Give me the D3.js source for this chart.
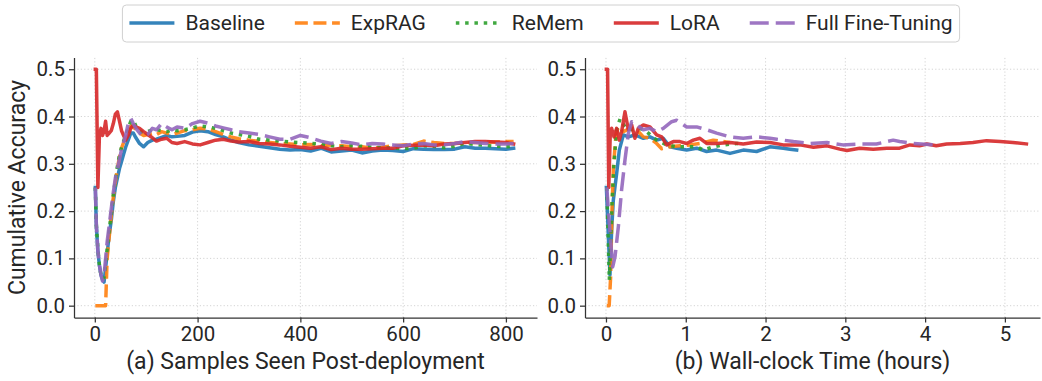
<!DOCTYPE html>
<html>
<head>
<meta charset="utf-8">
<script src="https://cdn.jsdelivr.net/npm/d3@7"></script>
<style>
  body { margin: 0; background: #fff; }
  svg text { font-family: Roboto, "Noto Sans", "DejaVu Sans", sans-serif; fill: #262626; }
</style>
</head>
<body>
<svg id="chart" width="1042" height="381"></svg>
<script>
// ---- series metadata ----
const seriesNames = ["Baseline", "ExpRAG", "ReMem", "LoRA", "Full Fine-Tuning"];
const seriesColors = ["#1f77b4", "#ff7f0e", "#2ca02c", "#d62728", "#9467bd"];
const seriesDashes = [null, "13,5.6", "3.5,5.8", null, "19,7"];

// ---- panel (a): cumulative accuracy vs samples seen ----
const samplesSeen = [
  1, 3, 6, 9, 12, 15, 18, 21, 24, 28, 32,
  36, 40, 44, 48, 52, 56, 60, 65, 70, 75, 80,
  87, 95, 103, 112, 120, 130, 140, 150, 160, 175, 190,
  205, 220, 235, 250, 265, 280, 300, 320, 340, 360, 380,
  400, 420, 440, 460, 480, 500, 520, 540, 560, 580, 600,
  620, 640, 660, 680, 700, 720, 740, 760, 780, 800, 815
];
const baselineBySamples = [
  0.25, 0.17, 0.115, 0.085, 0.065, 0.055, 0.05, 0.08, 0.11, 0.15, 0.18,
  0.22, 0.25, 0.27, 0.29, 0.305, 0.32, 0.335, 0.35, 0.365, 0.365, 0.355,
  0.343, 0.336, 0.345, 0.350, 0.352, 0.356, 0.360, 0.357, 0.358, 0.360, 0.367,
  0.370, 0.368, 0.362, 0.357, 0.350, 0.345, 0.340, 0.337, 0.334, 0.331, 0.329,
  0.330, 0.327, 0.333, 0.325, 0.327, 0.329, 0.323, 0.327, 0.329, 0.328, 0.326,
  0.332, 0.331, 0.330, 0.330, 0.331, 0.336, 0.333, 0.333, 0.332, 0.331, 0.333
];
const expragBySamples = [
  0.0, 0.0, 0.0, 0.0, 0.0, 0.0, 0.0, 0.0, 0.10, 0.145, 0.19,
  0.23, 0.262, 0.29, 0.315, 0.333, 0.345, 0.358, 0.37, 0.38, 0.378, 0.372,
  0.365, 0.36, 0.362, 0.365, 0.362, 0.368, 0.365, 0.362, 0.365, 0.37, 0.372,
  0.375, 0.374, 0.368, 0.362, 0.357, 0.353, 0.350, 0.347, 0.345, 0.343, 0.342,
  0.340, 0.341, 0.338, 0.340, 0.338, 0.336, 0.336, 0.333, 0.335, 0.338, 0.340,
  0.341, 0.348, 0.345, 0.343, 0.343, 0.344, 0.345, 0.346, 0.346, 0.347, 0.347
];
const rememBySamples = [
  0.25, 0.17, 0.12, 0.085, 0.065, 0.055, 0.06, 0.09, 0.12, 0.16, 0.195,
  0.235, 0.265, 0.295, 0.318, 0.335, 0.348, 0.36, 0.375, 0.39, 0.392, 0.38,
  0.37, 0.365, 0.368, 0.372, 0.372, 0.37, 0.368, 0.372, 0.37, 0.372, 0.376,
  0.38, 0.378, 0.375, 0.370, 0.365, 0.362, 0.358, 0.352, 0.350, 0.348, 0.346,
  0.345, 0.343, 0.342, 0.338, 0.336, 0.338, 0.337, 0.335, 0.334, 0.333, 0.332,
  0.333, 0.338, 0.337, 0.334, 0.337, 0.343, 0.341, 0.339, 0.337, 0.336, 0.337
];
const loraBySamples = [
  0.50, 0.50, 0.25, 0.36, 0.375, 0.36, 0.37, 0.39, 0.36, 0.365, 0.37,
  0.385, 0.405, 0.41, 0.39, 0.37, 0.36, 0.35, 0.36, 0.375, 0.382, 0.378,
  0.375, 0.368, 0.362, 0.355, 0.348, 0.352, 0.354, 0.345, 0.343, 0.347, 0.342,
  0.340, 0.345, 0.350, 0.352, 0.348, 0.346, 0.347, 0.343, 0.342, 0.340, 0.337,
  0.335, 0.333, 0.336, 0.330, 0.333, 0.331, 0.331, 0.332, 0.333, 0.333, 0.338,
  0.339, 0.340, 0.338, 0.342, 0.343, 0.345, 0.347, 0.347, 0.346, 0.345, 0.342
];
const fullFtBySamples = [
  0.25, 0.17, 0.115, 0.085, 0.065, 0.052, 0.065, 0.10, 0.135, 0.17, 0.205,
  0.24, 0.27, 0.29, 0.31, 0.33, 0.345, 0.36, 0.385, 0.396, 0.385, 0.375,
  0.365, 0.358, 0.362, 0.375, 0.372, 0.385, 0.378, 0.372, 0.378, 0.375, 0.385,
  0.39, 0.386, 0.38, 0.376, 0.372, 0.368, 0.365, 0.362, 0.357, 0.352, 0.352,
  0.360, 0.355, 0.348, 0.343, 0.347, 0.344, 0.340, 0.343, 0.342, 0.340, 0.338,
  0.342, 0.343, 0.340, 0.340, 0.343, 0.347, 0.345, 0.343, 0.342, 0.342, 0.343
];

// ---- panel (b): cumulative accuracy vs wall-clock hours ----
const baselineHours = [0.005, 0.029, 0.05, 0.071, 0.092, 0.134, 0.167, 0.217, 0.28, 0.363,
  0.468, 0.551, 0.635, 0.718, 0.802, 0.886, 1.011, 1.136, 1.261, 1.387,
  1.554, 1.721, 1.888, 2.055, 2.222, 2.306, 2.39];
const baselineByTime = [0.25, 0.15, 0.065, 0.16, 0.223, 0.28, 0.329, 0.361, 0.357, 0.361,
  0.354, 0.357, 0.350, 0.354, 0.336, 0.333, 0.329, 0.333, 0.326, 0.329,
  0.322, 0.329, 0.326, 0.336, 0.333, 0.331, 0.329];

const expragHours = [0.01, 0.04, 0.058, 0.075, 0.092, 0.125, 0.155, 0.217, 0.301, 0.384,
  0.468, 0.551, 0.635, 0.698, 0.802, 0.927, 1.052, 1.178, 1.345, 1.47, 1.55];
const expragByTime = [0.0, 0.0, 0.06, 0.20, 0.29, 0.362, 0.378, 0.368, 0.375, 0.372,
  0.357, 0.354, 0.343, 0.332, 0.336, 0.338, 0.340, 0.343, 0.350, 0.347, 0.345];

const rememHours = [0.01, 0.042, 0.071, 0.10, 0.134, 0.176, 0.238, 0.322, 0.426, 0.509,
  0.635, 0.76, 0.886, 1.011, 1.136, 1.22, 1.345, 1.47, 1.638, 1.72];
const rememByTime = [0.25, 0.054, 0.20, 0.30, 0.372, 0.395, 0.378, 0.372, 0.375, 0.368,
  0.350, 0.340, 0.336, 0.336, 0.336, 0.329, 0.336, 0.340, 0.343, 0.342];

const loraHours = [0.005, 0.02, 0.035, 0.055, 0.071, 0.10, 0.134, 0.167, 0.196, 0.238,
  0.28, 0.322, 0.363, 0.405, 0.468, 0.551, 0.635, 0.698, 0.76, 0.844,
  0.927, 1.011, 1.094, 1.178, 1.261, 1.387, 1.554, 1.721, 1.888, 2.055,
  2.222, 2.43, 2.60, 2.77, 2.93, 3.02, 3.18, 3.35, 3.52, 3.68,
  3.81, 3.93, 4.02, 4.14, 4.27, 4.44, 4.60, 4.77, 4.94, 5.10, 5.27];
const loraByTime = [0.50, 0.50, 0.25, 0.37, 0.375, 0.357, 0.375, 0.350, 0.368, 0.410,
  0.372, 0.382, 0.354, 0.375, 0.382, 0.378, 0.361, 0.357, 0.340, 0.347,
  0.347, 0.343, 0.350, 0.354, 0.343, 0.343, 0.345, 0.342, 0.346, 0.345,
  0.340, 0.340, 0.335, 0.338, 0.331, 0.328, 0.333, 0.331, 0.333, 0.333,
  0.340, 0.338, 0.342, 0.338, 0.342, 0.343, 0.345, 0.349, 0.347, 0.345, 0.342];

const fullFtHours = [0.01, 0.05, 0.084, 0.113, 0.155, 0.196, 0.238, 0.28, 0.322, 0.384,
  0.468, 0.551, 0.635, 0.718, 0.823, 0.886, 1.011, 1.136, 1.261, 1.387,
  1.554, 1.721, 1.888, 2.055, 2.14, 2.35, 2.56, 2.77, 2.97, 3.18,
  3.39, 3.60, 3.68, 3.85, 4.10];
const fullFtByTime = [0.25, 0.157, 0.082, 0.103, 0.167, 0.245, 0.308, 0.364, 0.389, 0.382,
  0.372, 0.375, 0.368, 0.375, 0.389, 0.392, 0.378, 0.378, 0.372, 0.365,
  0.357, 0.354, 0.357, 0.354, 0.352, 0.347, 0.343, 0.345, 0.340, 0.342,
  0.342, 0.350, 0.347, 0.343, 0.340];

// ---- axis ticks and labels ----
const accuracyTicks = [0.0, 0.1, 0.2, 0.3, 0.4, 0.5];
const sampleTicks = [0, 200, 400, 600, 800];
const hourTicks = [0, 1, 2, 3, 4, 5];
const yAxisTitle = "Cumulative Accuracy";
const panelTitles = ["(a) Samples Seen Post-deployment", "(b) Wall-clock Time (hours)"];

// ---- build ----
const svg = d3.select("#chart");
const zip = (xs, ys) => xs.map((x, i) => [x, ys[i]]);
const LINE_W = 3.5;

const panels = [
  {
    xDomain: [-40.5, 860.5], xRange: [74, 537], ticks: sampleTicks, fmt: d3.format("d"),
    title: panelTitles[0],
    series: [
      zip(samplesSeen, baselineBySamples), zip(samplesSeen, expragBySamples),
      zip(samplesSeen, rememBySamples), zip(samplesSeen, loraBySamples),
      zip(samplesSeen, fullFtBySamples)
    ]
  },
  {
    xDomain: [-0.263, 5.44], xRange: [585, 1040], ticks: hourTicks, fmt: d3.format("d"),
    title: panelTitles[1],
    series: [
      zip(baselineHours, baselineByTime), zip(expragHours, expragByTime),
      zip(rememHours, rememByTime), zip(loraHours, loraByTime),
      zip(fullFtHours, fullFtByTime)
    ]
  }
];

const yRange = [317.5, 57.4];
const y = d3.scaleLinear().domain([-0.025, 0.525]).range(yRange);

panels.forEach(p => {
  const x = d3.scaleLinear().domain(p.xDomain).range(p.xRange);
  const g = svg.append("g");

  // grid
  const grid = g.append("g").attr("stroke", "#cfcfcf").attr("stroke-width", 0.9)
    .attr("stroke-dasharray", "1.2,2.2");
  grid.selectAll("line.v").data(p.ticks).join("line")
    .attr("x1", d => x(d)).attr("x2", d => x(d))
    .attr("y1", yRange[0]).attr("y2", yRange[1]);
  grid.selectAll("line.h").data(accuracyTicks).join("line")
    .attr("x1", p.xRange[0]).attr("x2", p.xRange[1])
    .attr("y1", d => y(d)).attr("y2", d => y(d));

  // series lines
  const line = d3.line().x(d => x(d[0])).y(d => y(d[1]));
  p.series.forEach((pts, i) => {
    g.append("path")
      .datum(pts)
      .attr("d", line)
      .attr("fill", "none")
      .attr("stroke", seriesColors[i])
      .attr("stroke-opacity", 0.9)
      .attr("stroke-width", LINE_W)
      .attr("stroke-linejoin", "round")
      .attr("stroke-linecap", seriesDashes[i] ? "butt" : "square")
      .attr("stroke-dasharray", seriesDashes[i]);
  });

  // axes
  const xAxis = d3.axisBottom(x).tickValues(p.ticks).tickFormat(p.fmt)
    .tickSize(5).tickSizeOuter(0).tickPadding(4);
  const yAxis = d3.axisLeft(y).tickValues(accuracyTicks).tickFormat(d3.format(".1f"))
    .tickSize(5).tickSizeOuter(0).tickPadding(4);

  const gx = g.append("g").attr("transform", `translate(0,${yRange[0]})`).call(xAxis);
  const gy = g.append("g").attr("transform", `translate(${p.xRange[0]},0)`).call(yAxis);
  [gx, gy].forEach(a => {
    a.select(".domain").attr("stroke", "#333").attr("stroke-width", 1.25);
    a.selectAll(".tick line").attr("stroke", "#333").attr("stroke-width", 1.25);
    a.selectAll(".tick text").attr("font-size", 20.5).attr("fill", "#262626")
      .style("font-family", "Roboto, sans-serif");
  });

  // panel title under x axis
  g.append("text")
    .attr("x", (p.xRange[0] + p.xRange[1]) / 2)
    .attr("y", 369)
    .attr("text-anchor", "middle")
    .attr("font-size", 23)
    .text(p.title);
});

// y axis title
svg.append("text")
  .attr("transform", `translate(25,${(yRange[0] + yRange[1]) / 2}) rotate(-90)`)
  .attr("text-anchor", "middle")
  .attr("font-size", 23)
  .text(yAxisTitle);

// legend
const legend = svg.append("g");
const handleLen = 45, handlePad = 11, colGap = 30, legendY = 23;
let cursor = 0;
seriesNames.forEach((name, i) => {
  const it = legend.append("g");
  it.append("line")
    .attr("x1", cursor).attr("x2", cursor + handleLen)
    .attr("y1", legendY).attr("y2", legendY)
    .attr("stroke", seriesColors[i]).attr("stroke-opacity", 0.9)
    .attr("stroke-width", LINE_W)
    .attr("stroke-dasharray", seriesDashes[i]);
  const t = it.append("text")
    .attr("x", cursor + handleLen + handlePad)
    .attr("y", legendY)
    .attr("dy", "0.35em")
    .attr("font-size", 21)
    .text(name);
  cursor += handleLen + handlePad + t.node().getComputedTextLength() + colGap;
});
const legendW = cursor - colGap;
const legendX = 541 - legendW / 2;
legend.attr("transform", `translate(${legendX},0)`);
svg.insert("rect", "g")
  .attr("x", legendX - 7).attr("y", 5)
  .attr("width", legendW + 14).attr("height", 37)
  .attr("rx", 4)
  .attr("fill", "#fff")
  .attr("stroke", "#d0d0d0")
  .attr("stroke-width", 1);
</script>
</body>
</html>
